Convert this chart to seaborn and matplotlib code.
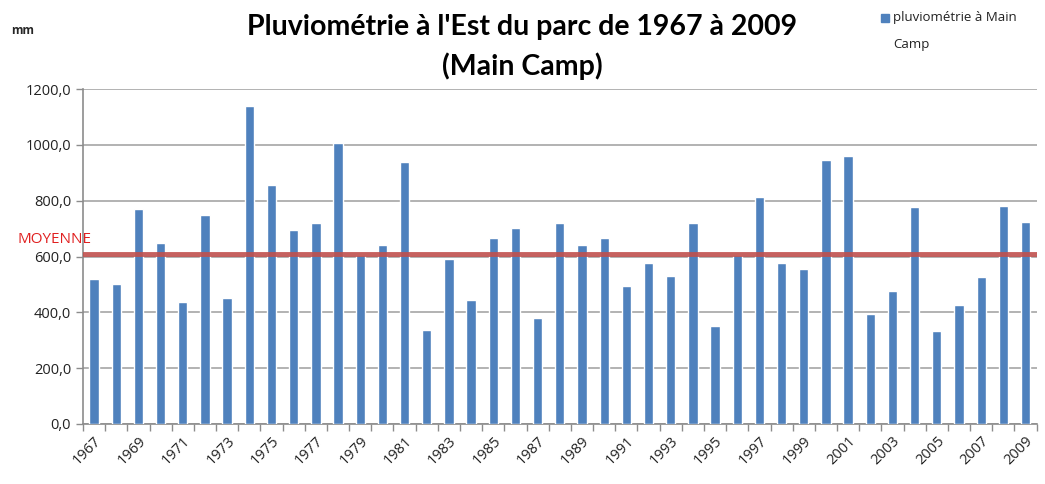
import numpy as np
import pandas as pd
import matplotlib
matplotlib.use("Agg")
import matplotlib.pyplot as plt
from matplotlib.ticker import FuncFormatter, FixedLocator
import seaborn as sns

# Annual rainfall (mm) at Main Camp, 1967-2009
years = list(range(1967, 2010))
rainfall = [521, 502, 771, 648, 436, 748, 451, 1140, 856, 696,
            720, 1008, 605, 640, 937, 336, 592, 445, 667, 701,
            378, 720, 640, 667, 493, 577, 530, 720, 350, 605,
            814, 577, 555, 947, 960, 393, 475, 777, 332, 426,
            526, 781, 724]
moyenne = 610
y_ticks = [0, 200, 400, 600, 800, 1000, 1200]

df = pd.DataFrame({"annee": [str(y) for y in years], "pluie": rainfall})

sns.set_theme(style="white")
plt.rcParams["font.family"] = ["Open Sans", "DejaVu Sans"]

fig = plt.figure(figsize=(10.45, 4.84), dpi=100)
ax = fig.add_axes([0.0794, 0.124, 0.9126, 0.692])

bar_color = "#4F81BD"
sns.barplot(data=df, x="annee", y="pluie", color=bar_color, width=0.42,
            saturation=1, ax=ax, zorder=3)

ax.set_ylim(0, 1200)
ax.set_xlim(-0.5, len(years) - 0.5)
ax.set_yticks(y_ticks)
ax.yaxis.set_major_formatter(FuncFormatter(lambda v, p: f"{v:.1f}".replace(".", ",")))
ax.grid(axis="y", color="#A6A6A6", linewidth=1.2, zorder=0)

# Year labels every other year, tick marks between categories
label_pos = list(range(0, len(years), 2))
ax.xaxis.set_major_locator(FixedLocator(label_pos))
ax.set_xticklabels([str(years[i]) for i in label_pos], rotation=45,
                   ha="right", rotation_mode="anchor", fontsize=10.5, color="#222222")
ax.xaxis.set_minor_locator(FixedLocator(np.arange(-0.5, len(years), 1.0)))
ax.tick_params(axis="x", which="major", length=0, pad=7)
ax.tick_params(axis="x", which="minor", length=5, width=1, color="#8C8C8C", bottom=True)
ax.tick_params(axis="y", length=5, width=1, color="#8C8C8C", left=True,
               labelsize=10.5, labelcolor="#222222")
ax.set_xlabel("")
ax.set_ylabel("")

for side in ["top", "right"]:
    ax.spines[side].set_visible(False)
for side in ["left", "bottom"]:
    ax.spines[side].set_color("#8C8C8C")
    ax.spines[side].set_linewidth(1.2)

# Mean line
ax.axhline(moyenne, color="#C0504D", linewidth=3.5, alpha=0.9, zorder=4)
fig.text(0.017, 0.505, "MOYENNE", color="#E02020", fontsize=11, va="center", ha="left")

# Titles and unit
fig.text(0.5, 0.903, "Pluviométrie à l'Est du parc de 1967 à 2009\n(Main Camp)",
         ha="center", va="center", fontsize=20.5, fontweight="bold",
         family=["Lato", "DejaVu Sans"], linespacing=1.55, color="#000000")
fig.text(0.011, 0.938, "mm", fontsize=8.5, fontweight="bold", ha="left", va="center")

# Legend
fig.patches.append(plt.Rectangle((0.8435, 0.955), 0.0075, 0.016, color=bar_color,
                                 transform=fig.transFigure, figure=fig))
fig.text(0.855, 0.964, "pluviométrie à Main", fontsize=9.5, va="center", ha="left",
         color="#222222")
fig.text(0.855, 0.908, "Camp", fontsize=9.5, va="center", ha="left", color="#222222")

fig.savefig("out.png", dpi=100)
